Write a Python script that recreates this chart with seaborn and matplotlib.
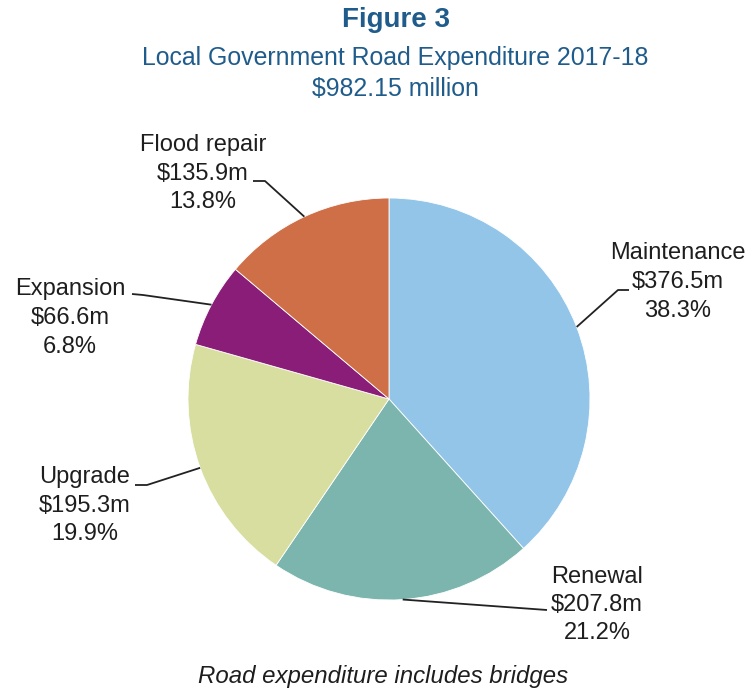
import matplotlib
matplotlib.use("Agg")
import matplotlib.pyplot as plt
import seaborn as sns
import numpy as np

categories = ["Maintenance", "Renewal", "Upgrade", "Expansion", "Flood repair"]
values = [376.5, 207.8, 195.3, 66.6, 135.9]
value_labels = ["$376.5m", "$207.8m", "$195.3m", "$66.6m", "$135.9m"]
percent_labels = ["38.3%", "21.2%", "19.9%", "6.8%", "13.8%"]
colors = ["#93C5E9", "#7BB5AD", "#D8DE9F", "#8A1D78", "#CF6F48"]

sns.set_theme(style="white")
plt.rcParams['font.family'] = ['Liberation Sans', 'DejaVu Sans']

W, H = 751, 688
fig = plt.figure(figsize=(7.51, 6.88), dpi=100)
ax = fig.add_axes([0, 0, 1, 1])

def py(y):
    return H - y

cx, cy, r = 389, 399, 201
wedges, _ = ax.pie(values, colors=colors, startangle=90, counterclock=False,
                   center=(cx, py(cy)), radius=r,
                   wedgeprops=dict(edgecolor="white", linewidth=0.6))
ax.set_xlim(0, W)
ax.set_ylim(0, H)
ax.set_aspect("equal")
ax.axis("off")

# label layout (pixel coords): text center x, line ys, leader elbow, leader end
layout = {
    "Maintenance": dict(x=678, ys=(253, 282, 311), elbow=(618, 290), end=(629, 290)),
    "Renewal": dict(x=597, ys=(577, 605, 633), elbow=(547, 610), end=(547, 610)),
    "Upgrade": dict(x=85, ys=(477, 506, 534), elbow=(147, 485), end=(135, 485)),
    "Expansion": dict(x=70, ys=(289, 318, 347), elbow=(143, 295), end=(132, 294)),
    "Flood repair": dict(x=203, ys=(145, 174, 202), elbow=(265, 181), end=(253, 181)),
}

txt_color = "#1E1E1E"
for w, cat, vl, pl in zip(wedges, categories, value_labels, percent_labels):
    lay = layout[cat]
    th = np.deg2rad((w.theta1 + w.theta2) / 2)
    x0 = w.center[0] + w.r * np.cos(th)
    y0 = w.center[1] + w.r * np.sin(th)
    ex, ey = lay["elbow"]
    nx, ny = lay["end"]
    ax.plot([x0, ex, nx], [y0, py(ey), py(ny)], color="#222222", lw=1.3,
            solid_capstyle="butt")
    for line, y in zip((cat, vl, pl), lay["ys"]):
        ax.text(lay["x"], py(y), line, ha="center", va="center",
                fontsize=17, color=txt_color)

title_color = "#1F5C8B"
ax.text(396, py(20), "Figure 3", ha="center", va="center", fontsize=20,
        fontweight="bold", color=title_color)
ax.text(395, py(58), "Local Government Road Expenditure 2017-18", ha="center",
        va="center", fontsize=17.9, color=title_color)
ax.text(395, py(89), "$982.15 million", ha="center", va="center",
        fontsize=17.9, color=title_color)

ax.text(383, py(677), "Road expenditure includes bridges", ha="center",
        va="center", fontsize=17.3, style="italic", color=txt_color)

fig.savefig("out.png", dpi=100)
